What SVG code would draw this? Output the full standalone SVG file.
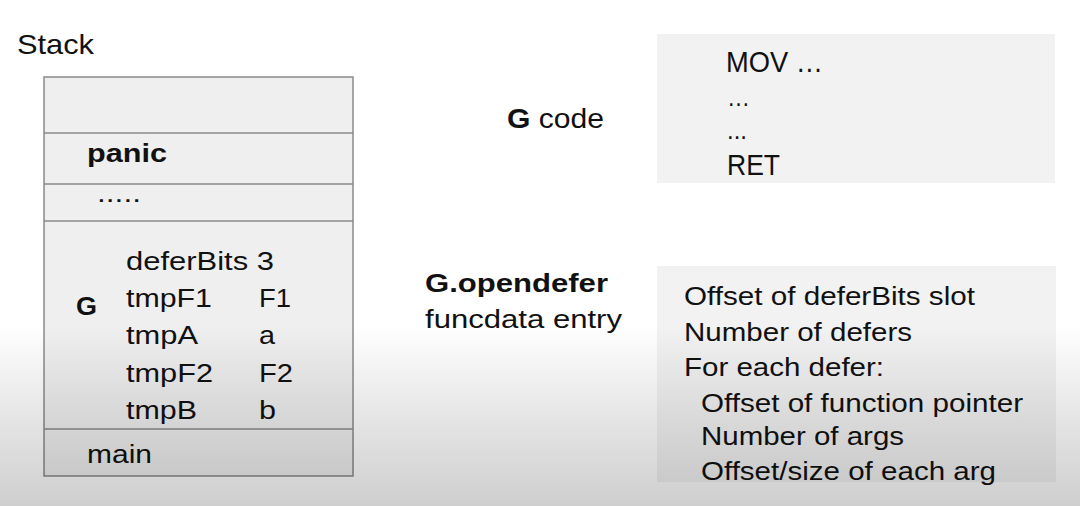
<svg xmlns="http://www.w3.org/2000/svg" width="1080" height="506" viewBox="0 0 1080 506">
<defs>
<linearGradient id="shade" x1="0" y1="0" x2="0" y2="1">
<stop offset="0" stop-color="#000" stop-opacity="0"/>
<stop offset="0.5" stop-color="#000" stop-opacity="0.1"/>
<stop offset="1" stop-color="#000" stop-opacity="0.19"/>
</linearGradient>
<style>
text{font-family:"Liberation Sans",Arial,sans-serif;font-size:26px;fill:#111}
.b{font-weight:bold}
.l{font-size:28px}
.c{font-size:29px}
.box{fill:#efefef;stroke:#8a8a8a;stroke-width:1.5}
.panel{fill:#f2f2f2}
.div{stroke:#8a8a8a;stroke-width:1.5}
</style>
</defs>
<rect width="1080" height="506" fill="#fff"/>
<text class="l" x="17" y="54" textLength="77" lengthAdjust="spacingAndGlyphs">Stack</text>
<g id="stack">
<rect class="box" x="44" y="77" width="309" height="399"/>
<line class="div" x1="44" y1="133" x2="353" y2="133"/>
<line class="div" x1="44" y1="184" x2="353" y2="184"/>
<line class="div" x1="44" y1="221" x2="353" y2="221"/>
<line class="div" x1="44" y1="429" x2="353" y2="429"/>
<text class="b" x="87" y="162" textLength="80" lengthAdjust="spacingAndGlyphs">panic</text>
<text x="97" y="202" textLength="44" lengthAdjust="spacingAndGlyphs">.....</text>
<text class="b" x="76" y="315" textLength="21" lengthAdjust="spacingAndGlyphs">G</text>
<text x="126" y="270" textLength="148" lengthAdjust="spacingAndGlyphs">deferBits 3</text>
<text x="126" y="307" textLength="86" lengthAdjust="spacingAndGlyphs">tmpF1</text><text x="259" y="307" textLength="32" lengthAdjust="spacingAndGlyphs">F1</text>
<text x="126" y="344" textLength="72" lengthAdjust="spacingAndGlyphs">tmpA</text><text x="259" y="344" textLength="16" lengthAdjust="spacingAndGlyphs">a</text>
<text x="126" y="382" textLength="87" lengthAdjust="spacingAndGlyphs">tmpF2</text><text x="259" y="382" textLength="34" lengthAdjust="spacingAndGlyphs">F2</text>
<text x="126" y="419" textLength="71" lengthAdjust="spacingAndGlyphs">tmpB</text><text x="259" y="419" textLength="17" lengthAdjust="spacingAndGlyphs">b</text>
<text x="87" y="463" textLength="65" lengthAdjust="spacingAndGlyphs">main</text>
</g>
<g id="gcode-label">
<text class="l" x="507" y="128" textLength="97" lengthAdjust="spacingAndGlyphs"><tspan class="b">G</tspan> code</text>
</g>
<g id="gcode">
<rect class="panel" x="657" y="34" width="398" height="149"/>
<text class="c" x="726" y="72" textLength="97" lengthAdjust="spacingAndGlyphs">MOV …</text>
<text x="727" y="106" textLength="23" lengthAdjust="spacingAndGlyphs">…</text>
<text x="727" y="139" textLength="20" lengthAdjust="spacingAndGlyphs">...</text>
<text class="c" x="727" y="175" textLength="53" lengthAdjust="spacingAndGlyphs">RET</text>
</g>
<g id="opendefer-label">
<text class="b" x="425" y="292" textLength="183" lengthAdjust="spacingAndGlyphs">G.opendefer</text>
<text x="425" y="328" textLength="197" lengthAdjust="spacingAndGlyphs">funcdata entry</text>
</g>
<g id="funcdata">
<rect class="panel" x="657" y="266" width="399" height="216"/>
<text x="684" y="305" textLength="291" lengthAdjust="spacingAndGlyphs">Offset of deferBits slot</text>
<text x="684" y="341" textLength="228" lengthAdjust="spacingAndGlyphs">Number of defers</text>
<text x="684" y="376" textLength="200" lengthAdjust="spacingAndGlyphs">For each defer:</text>
<text x="701" y="412" textLength="322" lengthAdjust="spacingAndGlyphs">Offset of function pointer</text>
<text x="701" y="445" textLength="203" lengthAdjust="spacingAndGlyphs">Number of args</text>
<text x="701" y="480" textLength="295" lengthAdjust="spacingAndGlyphs">Offset/size of each arg</text>
</g>
<g id="connectors"/>
<rect x="0" y="325" width="1080" height="181" fill="url(#shade)"/>
</svg>
